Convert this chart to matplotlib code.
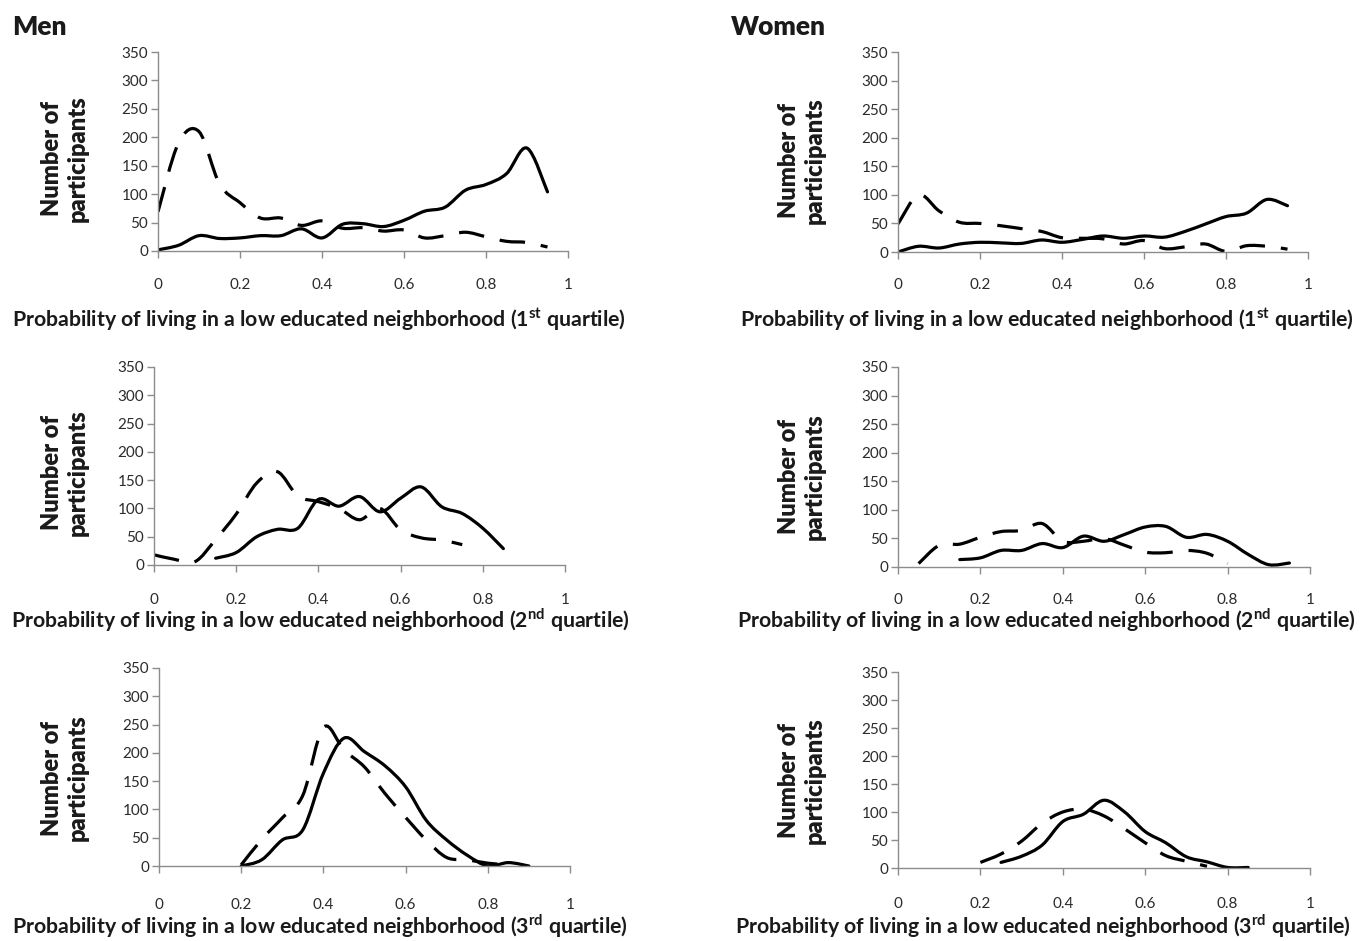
import matplotlib.pyplot as plt
import numpy as np
from matplotlib.path import Path
from matplotlib.patches import PathPatch

plt.rcParams['font.family'] = ['Lato', 'DejaVu Sans']
plt.rcParams['mathtext.fontset'] = 'custom'
plt.rcParams['mathtext.rm'] = 'Lato'
plt.rcParams['mathtext.bf'] = 'Lato:bold'

# ---- data ----
x_ticks = [0, 0.2, 0.4, 0.6, 0.8, 1]
x_tick_labels = ['0', '0.2', '0.4', '0.6', '0.8', '1']
y_ticks = [0, 50, 100, 150, 200, 250, 300, 350]

x_full = [0, 0.05, 0.1, 0.15, 0.2, 0.25, 0.3, 0.35, 0.4, 0.45,
          0.5, 0.55, 0.6, 0.65, 0.7, 0.75, 0.8, 0.85, 0.9, 0.95]

# Men, 1st quartile
men_q1_solid_x = x_full
men_q1_solid_y = [2, 10, 27, 22, 23, 27, 27, 39, 23, 47, 48, 43, 54, 70, 77, 107, 117, 136, 181, 104]
men_q1_dash_x = x_full
men_q1_dash_y = [69, 190, 210, 118, 85, 58, 58, 45, 53, 40, 41, 35, 37, 23, 27, 33, 25, 17, 15, 7]

# Women, 1st quartile
women_q1_solid_x = x_full
women_q1_solid_y = [0, 10, 7, 14, 17, 16, 15, 21, 17, 22, 28, 24, 28, 26, 36, 49, 62, 68, 92, 81]
women_q1_dash_x = x_full
women_q1_dash_y = [49, 100, 72, 52, 50, 46, 41, 36, 25, 24, 23, 14, 20, 6, 9, 14, 1, 11, 10, 5]

# Men, 2nd quartile
men_q2_solid_x = [0.15, 0.2, 0.25, 0.3, 0.35, 0.4, 0.45, 0.5, 0.55, 0.6, 0.65, 0.7, 0.75, 0.8, 0.85]
men_q2_solid_y = [12, 22, 50, 63, 65, 116, 104, 121, 94, 118, 138, 103, 91, 65, 29]
men_q2_dash_x = [0, 0.05, 0.1, 0.15, 0.2, 0.25, 0.3, 0.35, 0.4, 0.45, 0.5, 0.55, 0.6, 0.65, 0.7, 0.75]
men_q2_dash_y = [18, 10, 6, 45, 90, 145, 165, 122, 112, 100, 80, 100, 62, 48, 44, 36]

# Women, 2nd quartile
women_q2_solid_x = [0.15, 0.2, 0.25, 0.3, 0.35, 0.4, 0.45, 0.5, 0.55, 0.6, 0.65, 0.7, 0.75, 0.8, 0.85, 0.9, 0.95]
women_q2_solid_y = [13, 16, 29, 29, 41, 34, 54, 45, 57, 70, 71, 52, 57, 45, 22, 4, 7]
women_q2_dash_x = [0.05, 0.1, 0.15, 0.2, 0.25, 0.3, 0.35, 0.4, 0.45, 0.5, 0.55, 0.6, 0.65, 0.7, 0.75, 0.8]
women_q2_dash_y = [6, 38, 40, 52, 62, 64, 76, 45, 45, 50, 38, 26, 25, 29, 24, 6]

# Men, 3rd quartile
men_q3_solid_x = [0.2, 0.25, 0.3, 0.35, 0.4, 0.45, 0.5, 0.55, 0.6, 0.65, 0.7, 0.75, 0.8, 0.85, 0.9]
men_q3_solid_y = [0, 11, 46, 64, 164, 226, 202, 177, 140, 81, 46, 19, 0, 6, 0]
men_q3_dash_x = [0.2, 0.25, 0.3, 0.35, 0.4, 0.45, 0.5, 0.55, 0.6, 0.65, 0.7, 0.75, 0.8, 0.85]
men_q3_dash_y = [2, 47, 85, 125, 245, 205, 175, 128, 86, 46, 15, 11, 5, 2]

# Women, 3rd quartile
women_q3_solid_x = [0.25, 0.3, 0.35, 0.4, 0.45, 0.5, 0.55, 0.6, 0.65, 0.7, 0.75, 0.8, 0.85]
women_q3_solid_y = [10, 21, 41, 83, 96, 121, 100, 65, 45, 20, 11, 1, 1]
women_q3_dash_x = [0.2, 0.25, 0.3, 0.35, 0.4, 0.45, 0.5, 0.55, 0.6, 0.65, 0.7, 0.75]
women_q3_dash_y = [10, 25, 48, 80, 100, 105, 93, 70, 45, 22, 12, 3]

xlabel_base = 'Probability of living in a low educated neighborhood (%s quartile)'
ordinals = [r'1$^{\mathbf{st}}$', r'2$^{\mathbf{nd}}$', r'3$^{\mathbf{rd}}$']


def smooth_path(xs, ys):
    # bezier through the points, like a spreadsheet "smoothed line"
    p = np.column_stack([xs, ys]).astype(float)
    n = len(p)
    verts = [p[0]]
    codes = [Path.MOVETO]
    for i in range(n - 1):
        p0 = p[max(i - 1, 0)]
        p1 = p[i]
        p2 = p[i + 1]
        p3 = p[min(i + 2, n - 1)]
        verts += [p1 + (p2 - p0) / 6., p2 - (p3 - p1) / 6., p2]
        codes += [Path.CURVE4] * 3
    return Path(verts, codes)


W, H = 1369, 941
fig = plt.figure(figsize=(W / 100, H / 100), dpi=100)

# (left, right, top, bottom) in pixels, tick label centre y, xlabel centre (x, y), ylabel centre (x, y)
panels = [
    ((158, 568, 52, 251), 283, (319, 320), (65, 159),
     men_q1_solid_x, men_q1_solid_y, men_q1_dash_x, men_q1_dash_y, 0),
    ((898, 1308, 52, 252), 283, (1047, 320), (802, 161),
     women_q1_solid_x, women_q1_solid_y, women_q1_dash_x, women_q1_dash_y, 0),
    ((154, 565, 367, 565), 598, (320, 620), (65, 473),
     men_q2_solid_x, men_q2_solid_y, men_q2_dash_x, men_q2_dash_y, 1),
    ((898, 1310, 367, 567), 598, (1046, 620), (802, 477),
     women_q2_solid_x, women_q2_solid_y, women_q2_dash_x, women_q2_dash_y, 1),
    ((159, 570, 668, 866), 903, (320, 926), (65, 778),
     men_q3_solid_x, men_q3_solid_y, men_q3_dash_x, men_q3_dash_y, 2),
    ((898, 1310, 672, 868), 902, (1043, 926), (802, 781),
     women_q3_solid_x, women_q3_solid_y, women_q3_dash_x, women_q3_dash_y, 2),
]

axis_grey = '#8c8c8c'
text_grey = '#2b2b2b'

for rect, tick_y, xl_pos, yl_pos, sx, sy, dx, dy, q in panels:
    left, right, top, bottom = rect
    ax = fig.add_axes([left / W, 1 - bottom / H, (right - left) / W, (bottom - top) / H])
    ax.set_xlim(0, 1)
    ax.set_ylim(0, 350)
    ax.set_xticks(x_ticks)
    ax.set_xticklabels(x_tick_labels)
    ax.set_yticks(y_ticks)
    for s in ['top', 'right']:
        ax.spines[s].set_visible(False)
    for s in ['left', 'bottom']:
        ax.spines[s].set_color(axis_grey)
        ax.spines[s].set_linewidth(1.0)
    pad_px = tick_y - bottom - 7 - 5
    ax.tick_params(axis='x', direction='out', length=5, width=1, color=axis_grey,
                   labelsize=11, labelcolor=text_grey, pad=pad_px * 0.72)
    ax.tick_params(axis='y', direction='out', length=5, width=1, color=axis_grey,
                   labelsize=11, labelcolor=text_grey, pad=2)
    ax.patch.set_alpha(0)

    ax.add_patch(PathPatch(smooth_path(sx, sy), fill=False, edgecolor='black',
                           linewidth=2.3, joinstyle='round', capstyle='round'))
    ax.add_patch(PathPatch(smooth_path(dx, dy), fill=False, edgecolor='black',
                           linewidth=2.3, linestyle=(0, (8, 5)), capstyle='butt'))

    fig.text(xl_pos[0] / W, 1 - xl_pos[1] / H, xlabel_base % ordinals[q],
             ha='center', va='center', fontsize=15.3, fontweight='bold', color='#1a1a1a')
    fig.text(yl_pos[0] / W, 1 - yl_pos[1] / H, 'Number of\nparticipants',
             ha='center', va='center', rotation=90, fontsize=17, fontweight='heavy',
             color='#1a1a1a', multialignment='center', linespacing=1.2)

fig.text(12 / W, 1 - 27 / H, 'Men', ha='left', va='center', fontsize=19,
         fontweight='heavy', color='#1a1a1a')
fig.text(731 / W, 1 - 27 / H, 'Women', ha='left', va='center', fontsize=19,
         fontweight='heavy', color='#1a1a1a')

fig.savefig('out.png', dpi=100)
